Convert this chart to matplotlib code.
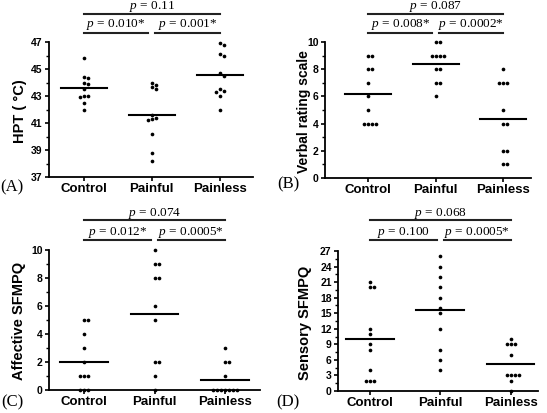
import numpy as np
import matplotlib
matplotlib.use("Agg")
import matplotlib.pyplot as plt
from matplotlib.ticker import MultipleLocator
from matplotlib.transforms import blended_transform_factory

plt.rcParams['font.family'] = ['Liberation Sans', 'DejaVu Sans']
plt.rcParams['mathtext.fontset'] = 'custom'
plt.rcParams['mathtext.it'] = 'Liberation Serif:italic'
plt.rcParams['mathtext.rm'] = 'Liberation Serif'

categories = ["Control", "Painful", "Painless"]

hpt_control = [45.8, 44.4, 44.3, 44.0, 43.9, 43.5, 43.0, 43.0, 42.9, 42.5, 42.0]
hpt_painful = [44.0, 43.8, 43.7, 43.5, 41.6, 41.4, 41.3, 41.2, 40.2, 38.8, 38.2]
hpt_painless = [46.9, 46.8, 46.1, 46.0, 44.7, 44.5, 43.5, 43.4, 43.3, 43.0, 42.0]

vrs_control = [9, 9, 8, 8, 7, 6, 5, 4, 4, 4, 4]
vrs_painful = [10, 10, 9, 9, 9, 9, 8, 8, 7, 7, 6]
vrs_painless = [8, 7, 7, 7, 5, 4, 4, 2, 2, 1, 1]

aff_control = [5, 5, 4, 3, 2, 1, 1, 1, 0, 0, 0]
aff_painful = [10, 9, 9, 8, 8, 6, 5, 2, 2, 1, 0]
aff_painless = [3, 2, 2, 1, 0, 0, 0, 0, 0, 0, 0]

sen_control = [21, 20, 20, 12, 11, 9, 8, 4, 2, 2, 2]
sen_painful = [26, 24, 22, 20, 18, 16, 15, 12, 8, 6, 4]
sen_painless = [10, 9, 9, 9, 7, 3, 3, 3, 3, 2, 0]

ylabels = ["HPT ( \u00b0C)", "Verbal rating scale", "Affective SFMPQ", "Sensory SFMPQ"]
panel_labels = ["(A)", "(B)", "(C)", "(D)"]
p_all = ["0.11", "0.087", "0.074", "0.068"]
p_left = ["0.010*", "0.008*", "0.012*", "0.100"]
p_right = ["0.001*", "0.0002*", "0.0005*", "0.0005*"]

panels_data = [
    (hpt_control, hpt_painful, hpt_painless),
    (vrs_control, vrs_painful, vrs_painless),
    (aff_control, aff_painful, aff_painless),
    (sen_control, sen_painful, sen_painless),
]
ylims = [(37, 47), (0, 10), (0, 10), (0, 27)]
ymajor = [2, 2, 2, 3]
yminor = [1, 1, 1, 1.5]

W, H = 547, 413
fig = plt.figure(figsize=(W / 100, H / 100), dpi=100)

# axes boxes in pixels: left, top, right, bottom
boxes = [(49, 42, 253, 177), (325, 42, 531, 178), (49, 250, 260, 390), (338, 251, 538, 391)]
xlims = [(-0.51, 2.49), (-0.64, 2.41), (-0.5, 2.5), (-0.45, 2.39)]
# bracket y positions (pixels from top): top line, lower line, top text, lower text
brk = [(14, 33, 7, 24), (14, 33, 7, 24), (220, 240, 213, 232), (220, 240, 213, 232)]
ylabel_x = [20, 304, 19, 305]
ylabel_size = [10.5, 10, 10.5, 10.5]
plabel_pos = [(12, 187), (288, 184), (12, 402), (288, 402)]


def swarm(values, ppy, ppx, step=4.0, mind=3.9):
    vals = np.asarray(values, dtype=float)
    order = np.argsort(-vals, kind='stable')
    cands = [0]
    for k in range(1, 30):
        cands += [k, -k]
    placed = []
    offs = np.zeros(len(vals))
    for i in order:
        y = vals[i] * ppy
        xsel = 0.0
        for c in cands:
            x = c * step
            if all((x - px) ** 2 + (y - py) ** 2 >= mind ** 2 for px, py in placed):
                xsel = x
                break
        placed.append((xsel, y))
        offs[i] = xsel / ppx
    return offs


for k in range(4):
    l, t, r, b = boxes[k]
    ax = fig.add_axes([l / W, 1 - b / H, (r - l) / W, (b - t) / H])
    ax.set_xlim(*xlims[k])
    ax.set_ylim(*ylims[k])
    ppx = (r - l) / (xlims[k][1] - xlims[k][0])
    ppy = (b - t) / (ylims[k][1] - ylims[k][0])
    for gi, vals in enumerate(panels_data[k]):
        offs = swarm(vals, ppy, ppx)
        ax.scatter(gi + offs, vals, s=7, color='black', zorder=5, clip_on=False, linewidths=0)
        m = np.mean(vals)
        ax.plot([gi - 0.34, gi + 0.34], [m, m], color='black', lw=1.5, zorder=4)
    for s in ['top', 'right']:
        ax.spines[s].set_visible(False)
    for s in ['left', 'bottom']:
        ax.spines[s].set_linewidth(1.3)
    ax.set_xticks(range(3))
    ax.set_xticklabels(categories, fontsize=9.5, fontweight='bold')
    ax.yaxis.set_major_locator(MultipleLocator(ymajor[k]))
    ax.yaxis.set_minor_locator(MultipleLocator(yminor[k]))
    if k == 0:
        ax.set_yticks(np.arange(37, 48, 2))
    ax.tick_params(axis='both', which='major', length=3, width=1.2, pad=1.5)
    ax.tick_params(axis='y', which='major', labelsize=7.5, labelcolor='black')
    ax.tick_params(axis='y', which='minor', length=2, width=1.0)
    for lab in ax.get_yticklabels():
        lab.set_fontweight('bold')
    ax.set_ylabel(ylabels[k], fontsize=ylabel_size[k], fontweight='bold', va='center')
    ax.yaxis.set_label_coords((ylabel_x[k] - l) / (r - l), 0.49)

    tr = blended_transform_factory(ax.transData, fig.transFigure)
    ytop, ylow, yttxt, yltxt = [1 - v / H for v in brk[k]]
    lines = [((0, 2.0), ytop), ((0, 0.95), ylow), ((1.05, 2.0), ylow)]
    for (x0, x1), yy in lines:
        ax.plot([x0, x1], [yy, yy], transform=tr, color='#222222', lw=1.5, clip_on=False)
    ax.text(1.0, yttxt, r"$p$ = " + p_all[k], transform=tr, ha='center', va='center',
            fontsize=9.5, family='Liberation Serif')
    ax.text(0.475, yltxt, r"$p$ = " + p_left[k], transform=tr, ha='center', va='center',
            fontsize=9.5, family='Liberation Serif')
    ax.text(1.525, yltxt, r"$p$ = " + p_right[k], transform=tr, ha='center', va='center',
            fontsize=9.5, family='Liberation Serif')

    px, py = plabel_pos[k]
    fig.text(px / W, 1 - py / H, panel_labels[k], ha='center', va='center',
             fontsize=12, family='Liberation Serif')

fig.savefig("out.png", dpi=100)
